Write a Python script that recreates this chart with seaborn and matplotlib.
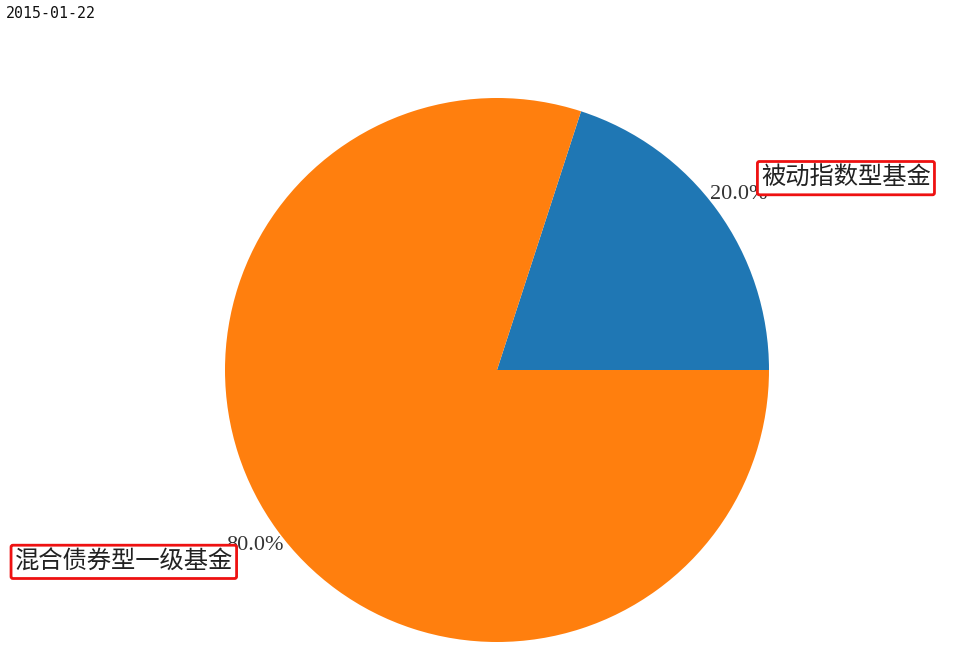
import matplotlib
matplotlib.use("Agg")
import matplotlib.pyplot as plt
import seaborn as sns

date_label = "2015-01-22"
fund_types = ["被动指数型基金", "混合债券型一级基金"]
shares = [20.0, 80.0]

sns.set_theme(style="white")
plt.rcParams["font.family"] = ["Noto Sans CJK SC", "DejaVu Sans"]
colors = sns.color_palette("tab10", 2)

fig = plt.figure(figsize=(9.55, 6.63), dpi=100)
W, H = 955, 663
cx, cy, r = 497, 370, 272
ax = fig.add_axes([(cx - r) / W, (H - cy - r) / H, 2 * r / W, 2 * r / H])

wedges, texts, autotexts = ax.pie(
    shares,
    labels=fund_types,
    colors=colors,
    autopct="%1.1f%%",
    startangle=0,
    labeldistance=1.2,
    pctdistance=1.1,
    wedgeprops={"linewidth": 0},
    textprops={"fontsize": 17},
)
for t in texts:
    t.set_fontsize(17.5)
    t.set_color("#222222")
    t.set_zorder(5)
    t.set_bbox(dict(boxstyle="round,pad=0.15,rounding_size=0.08", fc="white", ec="#ee1111", lw=2))
for t in autotexts:
    t.set_family(["Liberation Serif", "DejaVu Serif"])
    t.set_fontsize(16)
    t.set_color("#333333")
    t.set_zorder(4)

ax.set_xlim(-1, 1)
ax.set_ylim(-1, 1)
ax.set_aspect("equal")
ax.axis("off")

fig.text(6 / W, 1 - 14 / H, date_label, family="DejaVu Sans Mono", fontsize=10.7, va="center", ha="left", color="#111111")

fig.savefig("out.png", dpi=100)
